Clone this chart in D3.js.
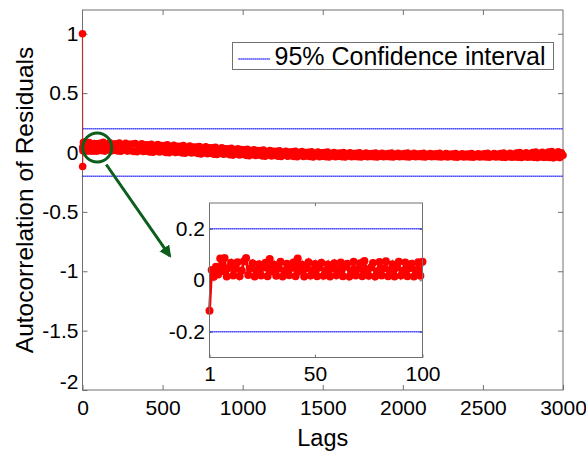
<!DOCTYPE html>
<html>
<head>
<meta charset="utf-8">
<script src="https://cdn.jsdelivr.net/npm/d3@7"></script>
<style>
  html, body { margin: 0; padding: 0; background: #fff; }
  svg { display: block; font-family: "Liberation Sans", Arial, Helvetica, sans-serif; }
</style>
</head>
<body>
<svg id="chart" width="586" height="451"></svg>
<script>
// Residual autocorrelation, lags 0..3000

// lag 0
const lagZeroAcf = 1.0;

// lags 1..100 (shown in full in the zoomed panel)
const earlyAcf = [
  -0.118,
  0.040, 0.014, 0.052, 0.022, 0.084, 0.036, 0.086, 0.015, 0.048, 0.068,
  0.018, 0.044, 0.070, 0.016, 0.038, 0.074, 0.086, 0.020, 0.046, 0.066,
  0.015, 0.040, 0.062, 0.018, 0.050, 0.068, 0.016, 0.083, 0.035, 0.060,
  0.017, 0.045, 0.072, 0.015, 0.038, 0.064, 0.019, 0.048, 0.069, 0.016,
  0.084, 0.036, 0.060, 0.015, 0.047, 0.070, 0.018, 0.040, 0.063, 0.016,
  0.050, 0.068, 0.017, 0.037, 0.061, 0.015, 0.046, 0.066, 0.019, 0.042,
  0.069, 0.016, 0.052, 0.064, 0.015, 0.038, 0.072, 0.018, 0.044, 0.066,
  0.016, 0.075, 0.040, 0.017, 0.050, 0.067, 0.015, 0.036, 0.071, 0.018,
  0.046, 0.074, 0.016, 0.040, 0.062, 0.015, 0.049, 0.072, 0.018, 0.038,
  0.069, 0.016, 0.047, 0.064, 0.015, 0.040, 0.070, 0.017, 0.072
];

// lags 110..3000, every 10th lag
const laterLagStep = 10;
const laterAcf = [
  0.078, 0.016, 0.085, 0.012, 0.066, 0.024, 0.081, 0.014, 0.072, 0.019,
  0.074, 0.013, 0.080, 0.010, 0.062, 0.021, 0.077, 0.012, 0.069, 0.016,
  0.071, 0.009, 0.076, 0.006, 0.058, 0.017, 0.073, 0.008, 0.064, 0.012,
  0.065, 0.005, 0.070, 0.002, 0.053, 0.013, 0.067, 0.004, 0.058, 0.008,
  0.059, 0.001, 0.064, -0.002, 0.047, 0.009, 0.061, 0.000, 0.052, 0.004,
  0.053, -0.003, 0.058, -0.006, 0.041, 0.005, 0.055, -0.004, 0.046, 0.000,
  0.046, -0.009, 0.050, -0.012, 0.034, -0.001, 0.047, -0.010, 0.039, -0.005,
  0.039, -0.014, 0.043, -0.017, 0.027, -0.006, 0.040, -0.015, 0.032, -0.010,
  0.031, -0.019, 0.035, -0.022, 0.019, -0.011, 0.032, -0.020, 0.024, -0.015,
  0.022, -0.024, 0.026, -0.027, 0.011, -0.016, 0.023, -0.025, 0.016, -0.020,
  0.016, -0.028, 0.020, -0.031, 0.005, -0.020, 0.017, -0.029, 0.010, -0.024,
  0.010, -0.031, 0.014, -0.034, -0.001, -0.023, 0.011, -0.032, 0.004, -0.027,
  0.006, -0.033, 0.010, -0.036, -0.005, -0.025, 0.007, -0.034, 0.000, -0.029,
  0.002, -0.034, 0.006, -0.037, -0.008, -0.027, 0.003, -0.035, -0.003, -0.031,
  -0.001, -0.035, 0.003, -0.038, -0.011, -0.029, 0.000, -0.036, -0.006, -0.032,
  -0.004, -0.035, 0.000, -0.038, -0.013, -0.030, -0.002, -0.036, -0.008, -0.033,
  -0.006, -0.035, -0.002, -0.038, -0.015, -0.031, -0.004, -0.036, -0.010, -0.033,
  -0.008, -0.035, -0.004, -0.038, -0.016, -0.031, -0.006, -0.036, -0.012, -0.033,
  -0.009, -0.035, -0.005, -0.038, -0.017, -0.032, -0.007, -0.036, -0.013, -0.034,
  -0.009, -0.036, -0.005, -0.038, -0.017, -0.032, -0.007, -0.036, -0.013, -0.034,
  -0.010, -0.036, -0.006, -0.038, -0.018, -0.032, -0.008, -0.036, -0.014, -0.034,
  -0.011, -0.036, -0.007, -0.038, -0.019, -0.033, -0.009, -0.037, -0.015, -0.034,
  -0.012, -0.037, -0.008, -0.039, -0.020, -0.033, -0.010, -0.037, -0.016, -0.035,
  -0.012, -0.037, -0.008, -0.039, -0.020, -0.033, -0.010, -0.037, -0.016, -0.035,
  -0.010, -0.038, -0.006, -0.040, -0.019, -0.034, -0.008, -0.038, -0.015, -0.036,
  -0.008, -0.039, -0.004, -0.041, -0.018, -0.035, -0.006, -0.039, -0.013, -0.037,
  -0.005, -0.040, -0.001, -0.042, -0.016, -0.036, -0.003, -0.040, -0.011, -0.038,
  -0.001, -0.041, 0.003, -0.043, -0.013, -0.037, 0.001, -0.041, -0.007, -0.039,
  0.004, -0.042, 0.008, -0.045, -0.009, -0.038, 0.005, -0.043, -0.003, -0.024
];

// 95% confidence bound (±)
const confBound = 0.2;

// axis ticks
const mainXTicks = [0, 500, 1000, 1500, 2000, 2500, 3000];
const mainYTicks = [-2, -1.5, -1, -0.5, 0, 0.5, 1];
const mainYTickLabels = ["-2", "-1.5", "-1", "-0.5", "0", "0.5", "1"];
const insetXTicks = [1, 50, 100];
const insetYTicks = [-0.2, 0, 0.2];
const insetYTickLabels = ["-0.2", "0", "0.2"];

const xLabel = "Lags";
const yLabel = "Autocorrelation of Residuals";
const legendLabel = "95% Confidence interval";

// highlighted region on the main axes and where the arrow points
const focusLag = 92, focusAcf = 0.042;
const arrowEndLag = 545, arrowEndAcf = -0.87;

// ---- assemble series ----
const earlyPoints = earlyAcf.map((v, i) => ({ lag: i + 1, acf: v }));
const mainPoints = [{ lag: 0, acf: lagZeroAcf }]
  .concat(earlyPoints)
  .concat(laterAcf.map((v, i) => ({ lag: 100 + laterLagStep * (i + 1), acf: v })));

const RED = "#ff0000";
const BLUE = "#0000ff";
const AXIS = "#707070";
const GREEN = "#0b5e1b";
const FONT = 21;
const TITLE_FONT = 24.5;

const svg = d3.select("#chart");

// ---- main axes ----
const M = { left: 82.5, right: 563, top: 10, bottom: 390 };
const x = d3.scaleLinear().domain([0, 3000]).range([M.left, M.right]);
const y = d3.scaleLinear().domain([-2, 1.2]).range([M.bottom, M.top]);

const main = svg.append("g");

main.append("rect")
  .attr("x", M.left).attr("y", M.top)
  .attr("width", M.right - M.left).attr("height", M.bottom - M.top)
  .attr("fill", "#fff");

// inward ticks on all four sides, labels on bottom/left
const tickLen = 5;
main.append("g")
  .attr("transform", `translate(0,${M.bottom})`)
  .call(d3.axisBottom(x).tickValues(mainXTicks).tickSize(-tickLen).tickPadding(10).tickFormat(d3.format("d")))
  .call(g => g.select(".domain").remove());
main.append("g")
  .attr("transform", `translate(0,${M.top})`)
  .call(d3.axisTop(x).tickValues(mainXTicks.slice(1, -1)).tickSize(-tickLen).tickFormat(""))
  .call(g => g.select(".domain").remove());
main.append("g")
  .attr("transform", `translate(${M.left},0)`)
  .call(d3.axisLeft(y).tickValues(mainYTicks).tickSize(-tickLen).tickPadding(4)
    .tickFormat((d, i) => mainYTickLabels[i]))
  .call(g => g.select(".domain").remove());
main.append("g")
  .attr("transform", `translate(${M.right},0)`)
  .call(d3.axisRight(y).tickValues(mainYTicks.slice(1)).tickSize(-tickLen).tickFormat(""))
  .call(g => g.select(".domain").remove());

main.selectAll(".tick line").attr("stroke", AXIS);
main.selectAll(".tick text").attr("fill", "#000").attr("font-size", FONT)
  .attr("font-family", "Liberation Sans, Arial, sans-serif");

// lowest y label sits a little above its tick, clear of the first x label
main.selectAll(".tick text").filter(d => d === -2).attr("dy", "-0.05em");

main.append("rect")
  .attr("x", M.left).attr("y", M.top)
  .attr("width", M.right - M.left).attr("height", M.bottom - M.top)
  .attr("fill", "none").attr("stroke", AXIS).attr("stroke-width", 1);

// confidence bounds
main.selectAll("line.ci").data([confBound, -confBound]).join("line")
  .attr("class", "ci")
  .attr("x1", x(0)).attr("x2", x(3000))
  .attr("y1", d => y(d)).attr("y2", d => y(d))
  .attr("stroke", BLUE).attr("stroke-width", 1.6).attr("stroke-dasharray", "1.2,0.8");

// series
const mainLine = d3.line().x(d => x(d.lag)).y(d => y(d.acf));
main.append("path").datum(mainPoints)
  .attr("d", mainLine).attr("fill", "none").attr("stroke", "#b8302c").attr("stroke-width", 1.2);
main.append("g").selectAll("circle").data(mainPoints).join("circle")
  .attr("cx", d => x(d.lag)).attr("cy", d => y(d.acf)).attr("r", 3.8).attr("fill", RED);

// axis titles
svg.append("text")
  .attr("x", (M.left + M.right) / 2).attr("y", 446)
  .attr("text-anchor", "middle").attr("font-size", 23.5).attr("fill", "#000")
  .text(xLabel);
svg.append("text")
  .attr("transform", `translate(33,200) rotate(-90)`)
  .attr("text-anchor", "middle").attr("font-size", TITLE_FONT).attr("fill", "#000")
  .text(yLabel);

// legend
const leg = svg.append("g").attr("transform", "translate(232.5,42.5)");
leg.append("rect").attr("width", 321).attr("height", 27)
  .attr("fill", "#fff").attr("stroke", AXIS).attr("stroke-width", 1);
leg.append("line").attr("x1", 6).attr("x2", 38).attr("y1", 16.5).attr("y2", 16.5)
  .attr("stroke", BLUE).attr("stroke-width", 1.6).attr("stroke-dasharray", "1.2,0.8");
leg.append("text").attr("x", 42).attr("y", 22).attr("font-size", 25).attr("fill", "#000")
  .text(legendLabel);

// highlight ring and arrow
const defs = svg.append("defs");
defs.append("marker").attr("id", "arrowHead")
  .attr("viewBox", "0 0 10 10").attr("refX", 8).attr("refY", 5)
  .attr("markerWidth", 4).attr("markerHeight", 4).attr("orient", "auto")
  .append("path").attr("d", "M0,0 L10,5 L0,10 Z").attr("fill", GREEN);

svg.append("ellipse")
  .attr("cx", x(focusLag)).attr("cy", y(focusAcf)).attr("rx", 14.5).attr("ry", 14.5)
  .attr("fill", "none").attr("stroke", GREEN).attr("stroke-width", 3);
svg.append("line")
  .attr("x1", x(focusLag) + 9).attr("y1", y(focusAcf) + 17)
  .attr("x2", x(arrowEndLag)).attr("y2", y(arrowEndAcf))
  .attr("stroke", GREEN).attr("stroke-width", 3).attr("marker-end", "url(#arrowHead)");

// ---- inset: first 100 lags ----
const I = { left: 209.5, right: 422.5, top: 203, bottom: 357.5 };
const xi = d3.scaleLinear().domain([1, 100]).range([I.left, I.right]);
const yi = d3.scaleLinear().domain([-0.3, 0.3]).range([I.bottom, I.top]);

const inset = svg.append("g");
inset.append("rect")
  .attr("x", I.left).attr("y", I.top)
  .attr("width", I.right - I.left).attr("height", I.bottom - I.top)
  .attr("fill", "#fff");

const iTick = 3;
inset.append("g")
  .attr("transform", `translate(0,${I.bottom})`)
  .call(d3.axisBottom(xi).tickValues(insetXTicks).tickSize(-iTick).tickPadding(9).tickFormat(d3.format("d")))
  .call(g => g.select(".domain").remove());
inset.append("g")
  .attr("transform", `translate(0,${I.top})`)
  .call(d3.axisTop(xi).tickValues([50]).tickSize(-iTick).tickFormat(""))
  .call(g => g.select(".domain").remove());
inset.append("g")
  .attr("transform", `translate(${I.left},0)`)
  .call(d3.axisLeft(yi).tickValues(insetYTicks).tickSize(-iTick).tickPadding(4.5)
    .tickFormat((d, i) => insetYTickLabels[i]))
  .call(g => g.select(".domain").remove());
inset.append("g")
  .attr("transform", `translate(${I.right},0)`)
  .call(d3.axisRight(yi).tickValues(insetYTicks).tickSize(-iTick).tickFormat(""))
  .call(g => g.select(".domain").remove());
inset.selectAll(".tick line").attr("stroke", AXIS);
inset.selectAll(".tick text").attr("fill", "#000").attr("font-size", FONT)
  .attr("font-family", "Liberation Sans, Arial, sans-serif");

inset.selectAll("line.ci").data([confBound, -confBound]).join("line")
  .attr("class", "ci")
  .attr("x1", xi(1)).attr("x2", xi(100))
  .attr("y1", d => yi(d)).attr("y2", d => yi(d))
  .attr("stroke", BLUE).attr("stroke-width", 1.6).attr("stroke-dasharray", "1.2,0.8");

const insetLine = d3.line().x(d => xi(d.lag)).y(d => yi(d.acf));
inset.append("path").datum(earlyPoints)
  .attr("d", insetLine).attr("fill", "none").attr("stroke", RED).attr("stroke-width", 2.8);
inset.append("g").selectAll("circle").data(earlyPoints).join("circle")
  .attr("cx", d => xi(d.lag)).attr("cy", d => yi(d.acf)).attr("r", 4).attr("fill", RED);

inset.append("rect")
  .attr("x", I.left).attr("y", I.top)
  .attr("width", I.right - I.left).attr("height", I.bottom - I.top)
  .attr("fill", "none").attr("stroke", AXIS).attr("stroke-width", 1);
</script>
</body>
</html>
